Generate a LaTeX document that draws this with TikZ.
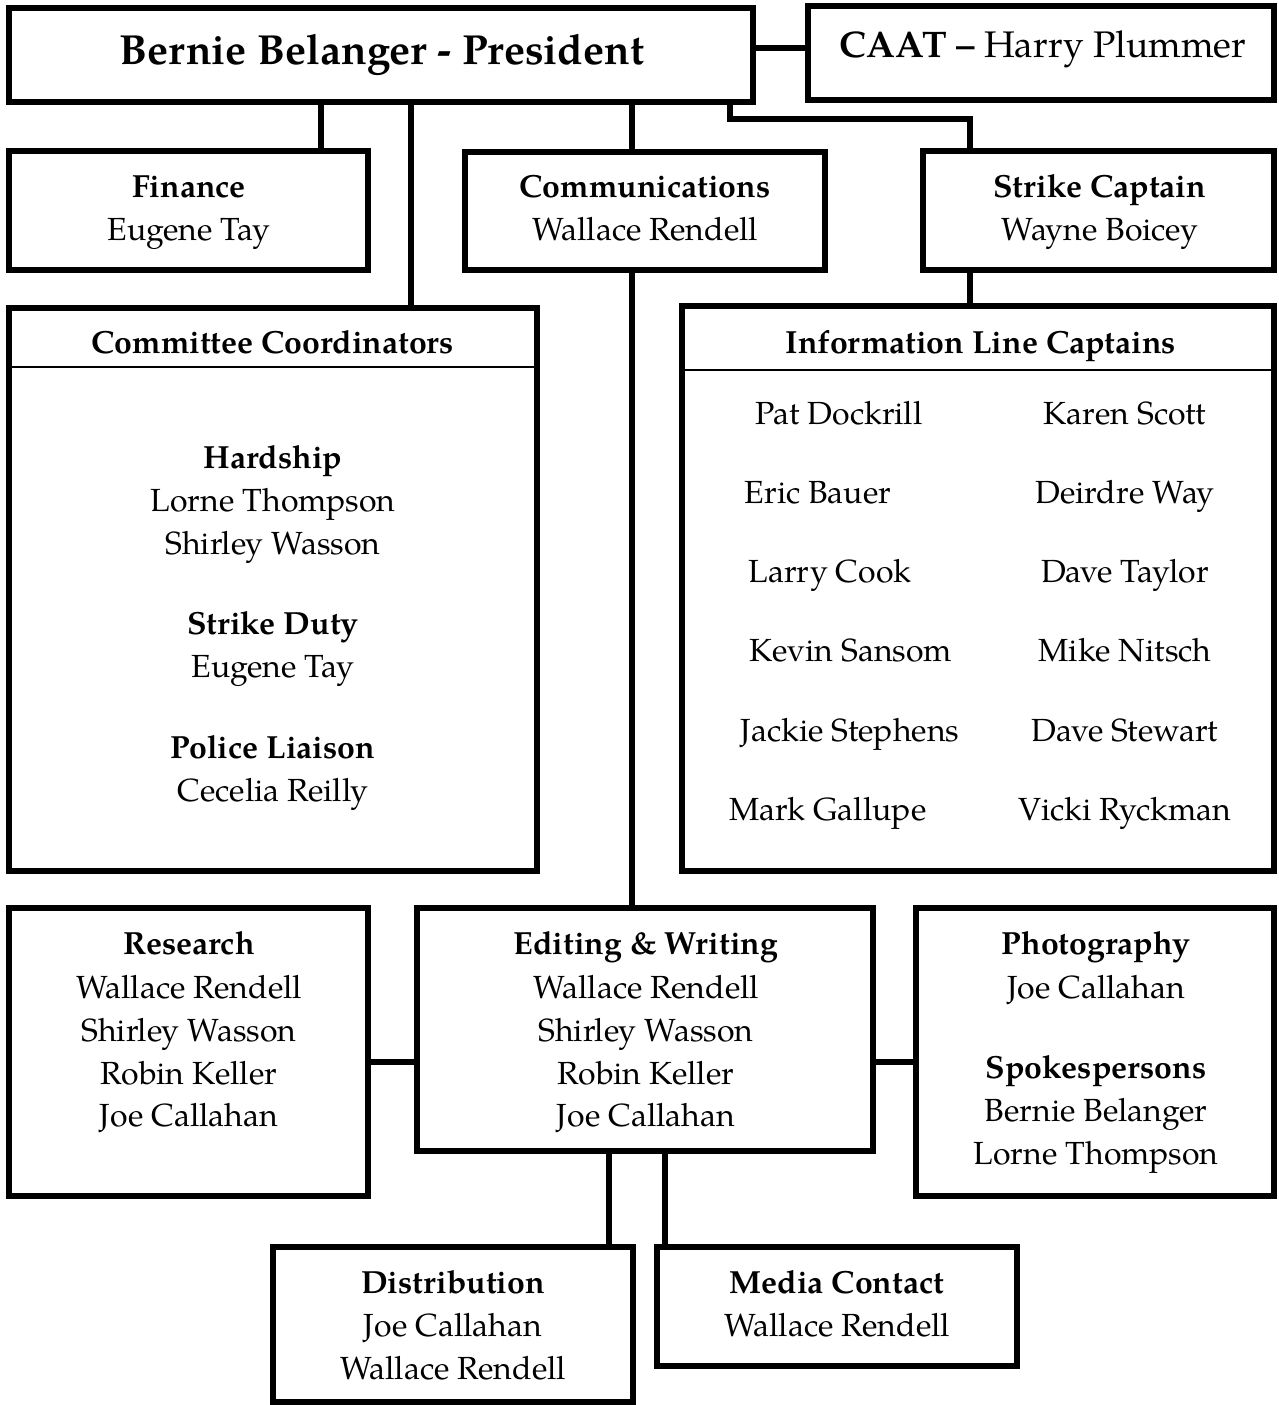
\documentclass[tikz,border=0pt]{standalone}
\usepackage{fontspec}
\setmainfont{TeX Gyre Pagella}
\begin{document}
\begin{tikzpicture}[x=1pt,y=-1pt,
  box/.style={draw=black, line width=5.5pt, inner sep=0pt, rectangle},
  conn/.style={draw=black, line width=5.5pt},
  sep/.style={draw=black, line width=2pt},
  lbl/.style={anchor=base, inner sep=0pt, font=\fontsize{32}{38}\selectfont},
  hd/.style={lbl, font=\fontsize{32}{38}\selectfont\bfseries}]
\useasboundingbox (0,0) rectangle (1279,1405);
% boxes
\node[box, minimum width=744pt, minimum height=94pt] (pres) at (381,55) {};
\node[box, minimum width=466pt, minimum height=94pt] (caat) at (1041,53) {};
\node[box, minimum width=359pt, minimum height=119pt] (fin) at (188.5,210.5) {};
\node[box, minimum width=360pt, minimum height=118pt] (comm) at (645,211) {};
\node[box, minimum width=351pt, minimum height=119pt] (strike) at (1098.5,210.5) {};
\node[box, minimum width=528pt, minimum height=563pt] (comc) at (273,589.5) {};
\node[box, minimum width=592pt, minimum height=565pt] (info) at (978,588.5) {};
\node[box, minimum width=359pt, minimum height=288pt] (res) at (188.5,1052) {};
\node[box, minimum width=456pt, minimum height=243pt] (edit) at (645,1029.5) {};
\node[box, minimum width=358pt, minimum height=288pt] (photo) at (1095,1052) {};
\node[box, minimum width=360pt, minimum height=155pt] (dist) at (453,1324.5) {};
\node[box, minimum width=360pt, minimum height=119pt] (media) at (837,1306.5) {};
% helper coordinates
\coordinate (xfin) at (321,0);
\coordinate (xcom) at (411,0);
\coordinate (xcomm) at (632,0);
\coordinate (sk1) at (730,119);
\coordinate (sk2) at (970,119);
\coordinate (ycaat) at (0,48);
\coordinate (yre) at (0,1062);
\coordinate (xdist) at (609,0);
\coordinate (xmed) at (665,0);
\coordinate (hl1) at (0,366.5);
\coordinate (hl2) at (0,370);
% connectors
\draw[conn] (pres.south -| xfin) -- (fin.north -| xfin);
\draw[conn] (pres.south -| xcom) -- (comc.north -| xcom);
\draw[conn] (pres.south -| xcomm) -- (comm.north -| xcomm);
\draw[conn] (pres.south -| sk1) -- (sk1) -- (sk2) -- (strike.north -| sk2);
\draw[conn] (pres.east |- ycaat) -- (caat.west |- ycaat);
\draw[conn] (strike.south -| sk2) -- (info.north -| sk2);
\draw[conn] (comm.south -| xcomm) -- (edit.north -| xcomm);
\draw[conn] (res.east |- yre) -- (edit.west |- yre);
\draw[conn] (edit.east |- yre) -- (photo.west |- yre);
\draw[conn] (edit.south -| xdist) -- (dist.north -| xdist);
\draw[conn] (edit.south -| xmed) -- (media.north -| xmed);
% header separators
\draw[sep, shorten <=2.75pt, shorten >=2.75pt] (comc.west |- hl1) -- (comc.east |- hl1);
\draw[sep, shorten <=2.75pt, shorten >=2.75pt] (info.west |- hl2) -- (info.east |- hl2);
% texts
\node[hd, font=\fontsize{42}{48}\selectfont\bfseries] (tpres) at (382,65) {Bernie Belanger - President};
\node[lbl, font=\fontsize{37}{44}\selectfont] (tcaat) at (1043,58) {{\bfseries CAAT –} Harry Plummer};
\node[hd] (tfin1) at (189,197) {Finance};
\node[lbl] (tfin2) at (189,240) {Eugene Tay};
\node[hd] (tcomm1) at (645,197) {Communications};
\node[lbl] (tcomm2) at (645,240) {Wallace Rendell};
\node[hd] (tstr1) at (1100,197) {Strike Captain};
\node[lbl] (tstr2) at (1100,240) {Wayne Boicey};
\node[hd] (tcomc) at (273,353) {Committee Coordinators};
\node[hd] (thard) at (273,468) {Hardship};
\node[lbl] (thard1) at (273,511) {Lorne Thompson};
\node[lbl] (thard2) at (273,554) {Shirley Wasson};
\node[hd] (tduty) at (273,634) {Strike Duty};
\node[lbl] (tduty1) at (273,677) {Eugene Tay};
\node[hd] (tpol) at (273,758) {Police Liaison};
\node[lbl] (tpol1) at (273,801) {Cecelia Reilly};
\node[hd] (tinfo) at (981,353) {Information Line Captains};
\node[lbl] (ia1) at (839,424) {Pat Dockrill};
\node[lbl] (ia2) at (818,503) {Eric Bauer};
\node[lbl] (ia3) at (830,582) {Larry Cook};
\node[lbl] (ia4) at (851,661) {Kevin Sansom};
\node[lbl] (ia5) at (850,741) {Jackie Stephens};
\node[lbl] (ia6) at (828,820) {Mark Gallupe};
\node[lbl] (ib1) at (1125,424) {Karen Scott};
\node[lbl] (ib2) at (1125,503) {Deirdre Way};
\node[lbl] (ib3) at (1125,582) {Dave Taylor};
\node[lbl] (ib4) at (1125,661) {Mike Nitsch};
\node[lbl] (ib5) at (1125,741) {Dave Stewart};
\node[lbl] (ib6) at (1125,820) {Vicki Ryckman};
\node[hd] (tres) at (189,954) {Research};
\node[lbl] (tres1) at (189,998) {Wallace Rendell};
\node[lbl] (tres2) at (189,1041) {Shirley Wasson};
\node[lbl] (tres3) at (189,1084) {Robin Keller};
\node[lbl] (tres4) at (189,1126) {Joe Callahan};
\node[hd] (tedit) at (646,954) {Editing \& Writing};
\node[lbl] (tedit1) at (646,998) {Wallace Rendell};
\node[lbl] (tedit2) at (646,1041) {Shirley Wasson};
\node[lbl] (tedit3) at (646,1084) {Robin Keller};
\node[lbl] (tedit4) at (646,1126) {Joe Callahan};
\node[hd] (tphoto) at (1096,954) {Photography};
\node[lbl] (tphoto1) at (1096,998) {Joe Callahan};
\node[hd] (tspk) at (1096,1078) {Spokespersons};
\node[lbl] (tspk1) at (1096,1121) {Bernie Belanger};
\node[lbl] (tspk2) at (1096,1164) {Lorne Thompson};
\node[hd] (tdist) at (453,1293) {Distribution};
\node[lbl] (tdist1) at (453,1336) {Joe Callahan};
\node[lbl] (tdist2) at (453,1379) {Wallace Rendell};
\node[hd] (tmed) at (837,1293) {Media Contact};
\node[lbl] (tmed1) at (837,1336) {Wallace Rendell};
\end{tikzpicture}
\end{document}
